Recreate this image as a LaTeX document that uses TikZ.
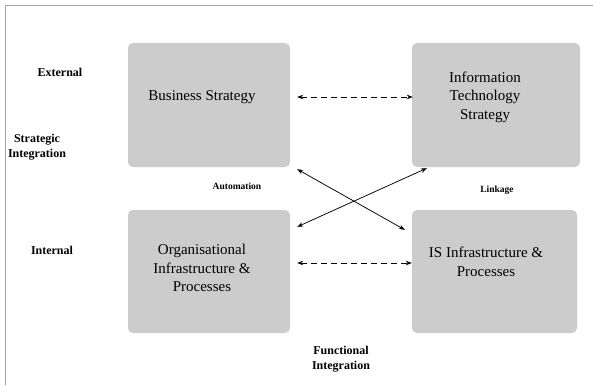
\documentclass[tikz,border=0pt]{standalone}
\usepackage{fontspec}
\setmainfont{Liberation Serif}
\usetikzlibrary{arrows.meta,calc}
\begin{document}
\begin{tikzpicture}[x=1pt,y=-1pt,
  boxnode/.style={fill=gray!40, rounded corners=5pt, inner sep=0pt},
  boxtext/.style={font=\fontsize{15}{18.5}\selectfont, align=center, inner sep=0pt},
  sidelabel/.style={font=\bfseries\fontsize{12}{15}\selectfont, align=center, inner sep=0pt},
  smalllabel/.style={font=\bfseries\fontsize{9.5}{11}\selectfont, inner sep=0pt},
  link/.style={line width=0.75pt, {Stealth[length=6pt,width=4.5pt]}-{Stealth[length=6pt,width=4.5pt]}},
  dashlink/.style={link, dash pattern=on 6pt off 4pt}]
\useasboundingbox (0,0) rectangle (593,385);
\fill[white] (0,0) rectangle (593,385);
% frame
\coordinate (fl) at (5,385);
\coordinate (fc) at (5,5);
\coordinate (fr) at (593,5);
\draw[gray!70, line width=0.9pt] (fl) -- (fc) -- (fr);
% boxes
\node[boxnode, minimum width=162pt, minimum height=124pt] (b1) at (209,105) {};
\node[boxnode, minimum width=168pt, minimum height=124pt] (b2) at (496,105) {};
\node[boxnode, minimum width=162pt, minimum height=123pt] (b3) at (209,271.5) {};
\node[boxnode, minimum width=165pt, minimum height=123pt] (b4) at (494.5,271.5) {};
% box texts
\node[boxtext] (t1) at (202,97) {Business Strategy};
\node[boxtext] (t2) at (485,97) {Information\\Technology\\Strategy};
\node[boxtext] (t3) at (202,268) {Organisational\\Infrastructure \&\\Processes};
\node[boxtext] (t4) at (486,262) {IS Infrastructure \&\\Processes};
% side labels
\node[sidelabel] (ext) at (60,72) {External};
\node[sidelabel] (si) at (37,147.5) {Strategic\\Integration};
\node[sidelabel] (int) at (52,250) {Internal};
\node[sidelabel] (fi) at (341,359.5) {Functional\\Integration};
\node[smalllabel] (auto) at (237,186) {Automation};
\node[smalllabel] (link) at (497,190) {Linkage};
% connectors
\draw[dashlink] ([xshift=7pt,yshift=8pt]b1.east) -- ([xshift=1pt,yshift=8pt]b2.west);
\draw[dashlink] ([xshift=7pt,yshift=8.5pt]b3.east) -- ([xshift=0pt,yshift=8.5pt]b4.west);
\draw[link] ([xshift=7pt,yshift=-2pt]b1.south east) -- ([xshift=-7pt,yshift=-20pt]b4.north west);
\draw[link] ([xshift=15pt,yshift=-1pt]b2.south west) -- ([xshift=7pt,yshift=-17pt]b3.north east);
\end{tikzpicture}
\end{document}
